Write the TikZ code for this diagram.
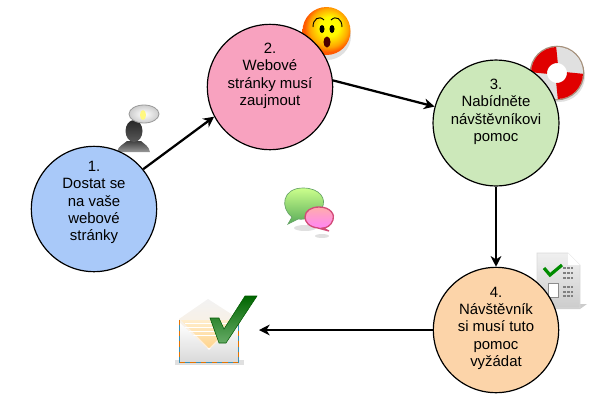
\documentclass[tikz,border=0pt]{standalone}
\usepackage{fontspec}
\setmainfont{Liberation Sans}
\usepackage{xcolor}
\usetikzlibrary{arrows.meta}

\definecolor{stepblue}{HTML}{A9C9F9}
\definecolor{steppink}{HTML}{F8A2BF}
\definecolor{stepgreen}{HTML}{CCE8BA}
\definecolor{steporange}{HTML}{FCD4A9}
\pgfdeclareradialshading{faceball}{\pgfpoint{4bp}{6bp}}{
    color(0bp)=(yellow); color(10bp)=(yellow!95!orange);
    color(20bp)=(orange!70!yellow); color(25bp)=(orange!70!red); color(50bp)=(orange!70!red)}

\begin{document}
\begin{tikzpicture}[
    x=0.75pt, y=-0.75pt,
    goal/.style={
        circle,
        minimum size=94pt,
        inner sep=0pt,
        draw=black, line width=0.9pt,
        align=center,
        font=\fontsize{11.2}{13}\selectfont
    },
    arrow/.style={-{Stealth[length=8pt,width=8pt,inset=2.5pt]}, line width=1.7pt},
    shadow/.style={fill=black!12, draw=none}
]
\useasboundingbox (0,0) rectangle (611,401);

% --- Icons first, the circles lie over them ---
% person with a bubble
\shade[top color=black!75, bottom color=black!40]
    (117,152) .. controls (118,146) and (124,144) .. (127,141) -- (141,141)
    .. controls (144,144) and (149,146) .. (150,152) -- cycle;
\shade[top color=black!85, bottom color=black!65] (134,131) ellipse (8.5 and 11);
\shade[draw=black!40, line width=0.6pt, inner color=white, outer color=black!20] (144,114) ellipse (15 and 9);
\fill[yellow!50!white] (143,115) ellipse (3 and 5);

% face
\fill[black!12] (327,36) circle (24);
\shade[shading=faceball] (326.5,31) circle (24);
\fill[black] (322,29) ellipse (2.5 and 4);
\fill[black] (332,29) ellipse (2.5 and 4);
\fill[black!70!red] (327,42) ellipse (3.5 and 5.5);
\draw[black, line width=0.7pt] (313,27) .. controls (313,19) and (319,15) .. (324,20);
\draw[black, line width=0.7pt] (331,20) .. controls (336,15) and (342,19) .. (342,27);

% lifebuoy
\fill[shadow] (559,76) circle (26);
\draw[black!45!brown!60, line width=1.2pt, fill=white] (557,73) circle (26.5);
\draw[black!12, line width=12pt] (557,73) circle (18);
\draw[red!88!black, line width=12pt] (539,73) arc[start angle=180, end angle=270, radius=18];
\draw[red!88!black, line width=12pt] (575,73) arc[start angle=0, end angle=90, radius=18];

% speech bubbles
\fill[shadow] (305,228) ellipse (11 and 3);
\fill[shadow] (322,236) ellipse (7 and 2);
\shade[draw=green!40!black!60, top color=green!45!yellow!45, bottom color=green!50!black!65, line width=0.5pt]
    (292,217) .. controls (280,208) and (282,188) .. (303,188)
    .. controls (320,188) and (327,199) .. (322,208)
    .. controls (316,218) and (304,220) .. (298,219) -- (288,224) -- cycle;
\shade[draw=purple!70, top color=pink!90!red, bottom color=magenta!50, line width=1pt]
    (319,207) .. controls (331,207) and (335,215) .. (333,220)
    .. controls (331,226) and (326,228) .. (323,228) -- (329,231) -- (318,228)
    .. controls (309,227) and (305,222) .. (305,217)
    .. controls (305,211) and (311,207) .. (319,207) -- cycle;

% checklist
\fill[black!20] (545,304) -- (587,304) -- (580,309) -- (545,309) -- cycle;
\shade[draw=black!15, top color=black!6, bottom color=black!20, line width=0.4pt]
    (537,253) -- (568,253) -- (580,265) -- (580,308) -- (537,308) -- cycle;
\fill[white] (568,253) -- (568,265) -- (580,265) -- cycle;
\draw[black!45, fill=white, line width=0.5pt] (548,283) rectangle (558,297);
\draw[green!55!black, line width=2.4pt] (544,268) -- (550,275) -- (562,265);
\foreach \i in {268,273,278,287,292,296}
    \draw[black!50, line width=0.8pt, dash pattern=on 2pt off 1pt] (563,\i) -- (573,\i);

% envelope with a check mark
\fill[shadow] (175,365) rectangle (244,360);
\shade[top color=black!5, bottom color=yellow!15!orange!15] (179,319) -- (208,299) -- (239,319) -- (239,348) -- (179,348) -- cycle;
\shade[top color=yellow!30!orange!20, bottom color=yellow!25!orange!45] (181,320) -- (237,320) -- (209,348) -- cycle;
\foreach \i in {323,327,331,335}
    \draw[white, line width=0.5pt] (185,\i) -- (233,\i);
\shade[top color=white, bottom color=black!15] (179,322) -- (209,350) -- (239,322) -- (239,363) -- (179,363) -- cycle;
\draw[cyan!70!black, line width=0.8pt] (179.5,320) -- (179.5,362.5) -- (238.5,362.5) -- (238.5,320);
\draw[orange!90!black, line width=0.9pt, dash pattern=on 4pt off 4pt] (179.5,320) -- (179.5,362.5) -- (238.5,362.5) -- (238.5,320);
\shade[draw=green!35!black, top color=green!40!black, bottom color=green!45!black!60, line width=0.4pt]
    (210,318) -- (219,318) -- (224,329) -- (245,296) -- (257,296) -- (226,343) -- (219,343) -- cycle;

% --- Four circles ---
\node[goal, fill=stepblue, text depth=12pt] (visit) at (94,209) {1.\\Dostat se\\na vaše\\webové\\stránky};
\node[goal, fill=steppink, text depth=19pt] (interest) at (270,87) {2.\\Webové\\stránky musí\\zaujmout};
\node[goal, fill=stepgreen, text depth=19pt] (help) at (496,123) {3.\\Nabídněte\\návštěvníkovi\\pomoc};
\node[goal, fill=steporange, text depth=5pt] (request) at (496,330) {4.\\Návštěvník\\si musí tuto\\pomoc\\vyžádat};
\coordinate (mail) at (259,330);

% --- Arrows ---
\draw[arrow] (visit.39) -- (interest.208);
\draw[arrow] (interest.6) -- (help.165);
\draw[arrow] (help) -- (request);
\draw[arrow] (request) -- (mail);

\end{tikzpicture}
\end{document}
